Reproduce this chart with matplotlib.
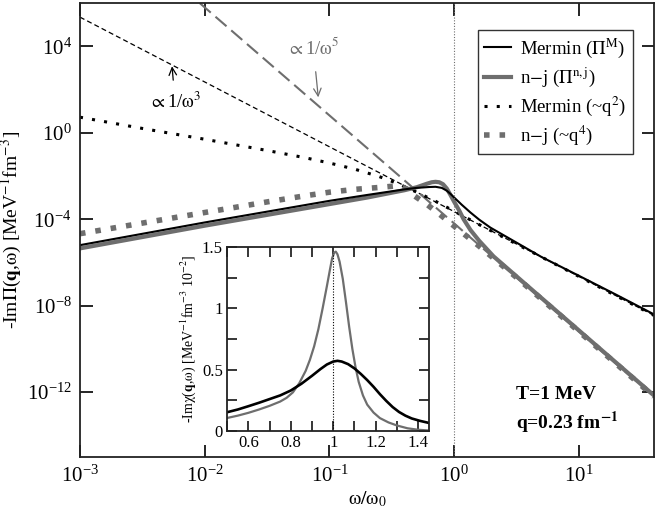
import numpy as np
import matplotlib
matplotlib.use("Agg")
import matplotlib.pyplot as plt
from matplotlib.ticker import MultipleLocator, NullLocator

plt.rcParams['font.family'] = ['Liberation Serif', 'DejaVu Serif']
plt.rcParams['mathtext.fontset'] = 'stix'
plt.rcParams['mathtext.default'] = 'rm'

# main panel values as log10(omega/omega0), log10(-Im Pi)
mermin_lx = [-3, -2, -1.5, -1, -0.7, -0.4, -0.3, -0.2, -0.15, -0.1, -0.06, -0.03, 0, 0.06, 0.13, 0.2, 0.29, 0.45, 0.7, 1.0, 1.3, 1.6]
mermin_ly = [-5.2, -4.15, -3.65, -3.15, -2.88, -2.62, -2.55, -2.51, -2.5, -2.55, -2.68, -2.83, -3.0, -3.33, -3.69, -4.02, -4.39, -4.92, -5.75, -6.62, -7.5, -8.4]

nj_lx = [-3, -2, -1.5, -1, -0.7, -0.4, -0.3, -0.22, -0.18, -0.15, -0.12, -0.09, -0.06, -0.03, 0, 0.04, 0.075, 0.13, 0.2, 0.315, 0.6, 1.0, 1.6]
nj_ly = [-5.35, -4.3, -3.8, -3.3, -3.0, -2.66, -2.52, -2.36, -2.29, -2.27, -2.29, -2.38, -2.58, -2.88, -3.2, -3.6, -4.0, -4.5, -5.0, -5.72, -7.15, -9.15, -12.15]

mq2_lx = [-3, -2.5, -2, -1.5, -1.2, -1.0, -0.8, -0.6, -0.45, -0.3, -0.15, 0, 0.2, 0.4, 0.6, 1.0, 1.6]
mq2_ly = [0.72, 0.2, -0.3, -0.82, -1.15, -1.40, -1.68, -2.03, -2.36, -2.75, -3.17, -3.63, -4.25, -4.85, -5.45, -6.65, -8.45]

njq4_lx = [-3, -2.5, -2, -1.5, -1.2, -1.0, -0.8, -0.6, -0.45, -0.38, -0.33, -0.22, -0.1, -0.02, 0.2, 0.5, 1.0, 1.6]
njq4_ly = [-4.67, -4.18, -3.69, -3.2, -2.92, -2.75, -2.62, -2.53, -2.45, -2.6, -2.88, -3.31, -3.85, -4.23, -5.25, -6.7, -9.2, -12.2]

# asymptotes
w3_lx = [-3, 1.6]
w3_ly = [5.35, -8.45]
w5_lx = [-2.04, 1.6]
w5_ly = [6.0, -12.2]

# inset values: omega/omega0, -Im chi [1e-2 MeV^-1 fm^-3]
ins_m_x = [0.5, 0.55, 0.6, 0.65, 0.7, 0.75, 0.8, 0.85, 0.9, 0.94, 0.97, 1.0, 1.02, 1.04, 1.07, 1.1, 1.13,
           1.16, 1.19, 1.22, 1.25, 1.28, 1.31, 1.34, 1.37, 1.41, 1.45]
ins_m_y = [0.153, 0.175, 0.202, 0.23, 0.26, 0.29, 0.33, 0.385, 0.45, 0.505, 0.542, 0.566, 0.572, 0.566, 0.545,
           0.51, 0.465, 0.415, 0.36, 0.30, 0.245, 0.195, 0.155, 0.125, 0.102, 0.082, 0.066]
ins_nj_x = [0.5, 0.55, 0.6, 0.65, 0.7, 0.75, 0.78, 0.81, 0.84, 0.87, 0.89, 0.91, 0.93, 0.95, 0.97, 0.985, 0.995,
            1.005, 1.012, 1.02, 1.03, 1.045, 1.06, 1.075, 1.09, 1.105, 1.12, 1.14, 1.16, 1.19, 1.22, 1.26,
            1.3, 1.35, 1.4, 1.45]
ins_nj_y = [0.106, 0.125, 0.148, 0.175, 0.205, 0.24, 0.27, 0.315, 0.39, 0.49, 0.58, 0.69, 0.83, 1.0, 1.18, 1.32,
            1.41, 1.455, 1.462, 1.44, 1.38, 1.24, 1.05, 0.85, 0.67, 0.52, 0.40, 0.29, 0.215, 0.15, 0.105,
            0.07, 0.045, 0.022, 0.01, 0.004]

gray = '#6e6e6e'

fig = plt.figure(figsize=(6.72, 5.14), dpi=100)
ax = fig.add_axes([0.119, 0.111, 0.854, 0.883])

p = lambda v: np.power(10.0, v)
ax.plot(p(w3_lx), p(w3_ly), color='black', lw=0.9, dashes=(4, 2.5))
ax.plot(p(w5_lx), p(w5_ly), color=gray, lw=1.5, dashes=(7, 3))
ax.plot(p(mq2_lx), p(mq2_ly), color='black', lw=2.2, linestyle=(0, (1, 3)), label=r'Mermin (~q$^2$)')
ax.plot(p(njq4_lx), p(njq4_ly), color=gray, lw=4, linestyle=(0, (1, 1.8)), label=r'n$-$j (~q$^4$)')
ax.plot(p(nj_lx), p(nj_ly), color=gray, lw=3, label=r'n$-$j ($\Pi^{\rm n,j}$)')
ax.plot(p(mermin_lx), p(mermin_ly), color='black', lw=1.5, label=r'Mermin ($\Pi^{\rm M}$)')
ax.axvline(1.0, color=gray, lw=0.8, linestyle=(0, (1, 1.5)))

ax.set_xscale('log')
ax.set_yscale('log')
ax.set_xlim(1e-3, 10 ** 1.6)
ax.set_ylim(1e-15, 1e6)
ax.set_xticks([1e-3, 1e-2, 1e-1, 1e0, 1e1])
ax.set_yticks([1e-12, 1e-8, 1e-4, 1e0, 1e4])
ax.xaxis.set_minor_locator(NullLocator())
ax.yaxis.set_minor_locator(NullLocator())
ax.tick_params(direction='in', top=True, right=True, length=9, width=1.2, labelsize=15, pad=6)
for s in ax.spines.values():
    s.set_linewidth(1.3)
    s.set_color('#222222')

ax.set_xlabel(r'$\omega/\omega_0$', fontsize=14, labelpad=2)
ax.set_ylabel(r'-Im$\Pi$($\mathbf{q}$,$\omega$) [MeV$^{-1}$fm$^{-3}$]', fontsize=14, labelpad=2)

# legend in the order of the picture
h, l = ax.get_legend_handles_labels()
order = [3, 2, 0, 1]
leg = ax.legend([h[i] for i in order], [l[i] for i in order], loc='upper right',
                bbox_to_anchor=(0.963, 0.9405), borderaxespad=0, fontsize=13.5, frameon=True,
                fancybox=False, edgecolor='black', handlelength=1.4, handletextpad=0.5,
                labelspacing=0.3, borderpad=0.35)
leg.get_frame().set_linewidth(1.0)

ax.annotate(r'$\propto$1/$\omega^3$', xy=(10 ** -2.262, 10 ** 3.075), xytext=(10 ** -2.238, 10 ** 1.45),
            ha='center', va='center', fontsize=13.5,
            arrowprops=dict(arrowstyle='->', color='black', lw=0.9, shrinkA=6, shrinkB=0))
ax.annotate(r'$\propto$1/$\omega^5$', xy=(10 ** -1.09, 10 ** 1.64), xytext=(10 ** -1.13, 10 ** 3.95),
            ha='center', va='center', fontsize=13.5, color=gray,
            arrowprops=dict(arrowstyle='->', color=gray, lw=0.9, shrinkA=8, shrinkB=0))

ax.text(0.76, 0.137, 'T=1 MeV', transform=ax.transAxes, fontsize=14, fontweight='bold', va='center')
ax.text(0.76, 0.075, r'q=0.23 fm$^{\mathbf{-1}}$', transform=ax.transAxes, fontsize=14,
        fontweight='bold', va='center')

# inset
ai = fig.add_axes([0.338, 0.1615, 0.300, 0.358])
ai.plot(ins_nj_x, ins_nj_y, color=gray, lw=1.6)
ai.plot(ins_m_x, ins_m_y, color='black', lw=1.9)
ai.vlines(1.0, 0, 1.45, color='black', lw=0.8, linestyle=(0, (1, 1.5)))
ai.set_xlim(0.5, 1.45)
ai.set_ylim(0, 1.5)
ai.set_xticks([0.6, 0.8, 1.0, 1.2, 1.4])
ai.set_xticklabels(['0.6', '0.8', '1', '1.2', '1.4'])
ai.set_yticks([0, 0.5, 1.0, 1.5])
ai.set_yticklabels(['0', '0.5', '1', '1.5'])
ai.xaxis.set_minor_locator(MultipleLocator(0.1))
ai.yaxis.set_minor_locator(MultipleLocator(0.25))
ai.tick_params(which='both', direction='in', top=True, right=True, length=7, width=1.1, labelsize=12, pad=3)
for s in ai.spines.values():
    s.set_linewidth(1.3)
    s.set_color('#222222')
ai.set_ylabel(r'-Im$\chi$($\mathbf{q}$,$\omega$) [MeV$^{-1}$fm$^{-3}$ 10$^{-2}$]', fontsize=10, labelpad=3)

fig.savefig('out.png', dpi=100)
